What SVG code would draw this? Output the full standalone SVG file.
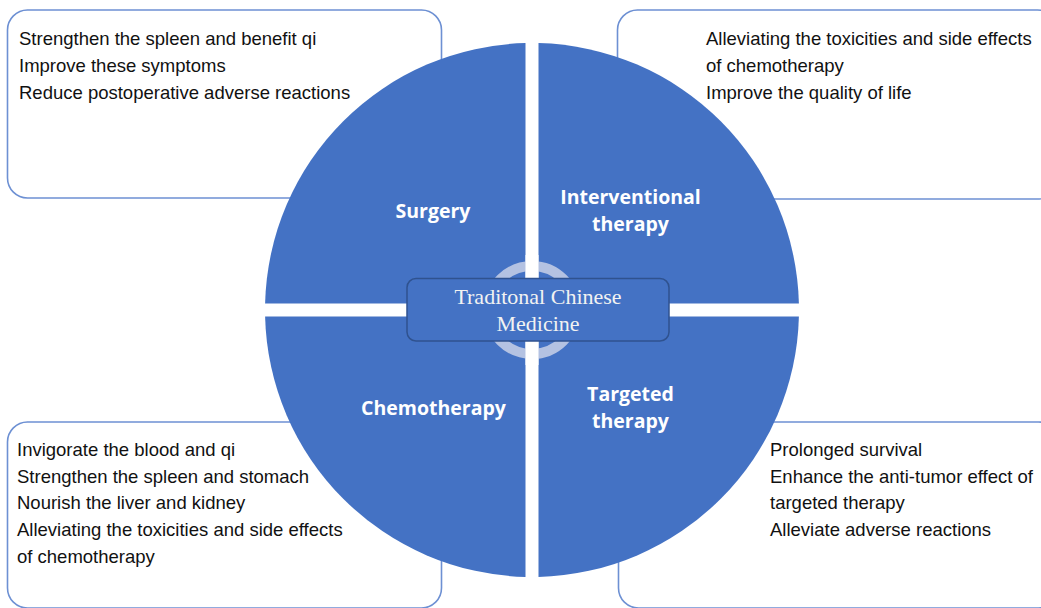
<svg xmlns="http://www.w3.org/2000/svg" width="1041" height="608" viewBox="0 0 1041 608">
<style>
.box{fill:#fff;stroke:#6d90d3;stroke-width:1.6}
.quad{fill:#4472c4}
.body{font-family:"Liberation Sans",Arial,sans-serif;font-size:18.5px;fill:#111}
.lbl{font-family:"Open Sans","Noto Sans",sans-serif;font-weight:700;font-size:19.5px;fill:#fff;text-anchor:middle}
.tcm{font-family:"Liberation Serif","Times New Roman",serif;font-size:22px;fill:#f2f2f2;text-anchor:middle}
</style>
<rect width="1041" height="608" fill="#fff"/>
<g id="box-surgery">
<rect class="box" x="7.5" y="10" width="434" height="188" rx="20"/>
<text class="body" x="19" y="45">Strengthen the spleen and benefit qi</text>
<text class="body" x="19" y="72">Improve these symptoms</text>
<text class="body" x="19" y="99">Reduce postoperative adverse reactions</text>
</g>
<g id="box-interventional">
<rect class="box" x="617.5" y="10" width="440" height="189" rx="20"/>
<text class="body" x="706" y="45">Alleviating the toxicities and side effects</text>
<text class="body" x="706" y="72">of chemotherapy</text>
<text class="body" x="706" y="99">Improve the quality of life</text>
</g>
<g id="box-chemotherapy">
<rect class="box" x="7.5" y="422" width="434" height="186" rx="20"/>
<text class="body" x="17" y="456">Invigorate the blood and qi</text>
<text class="body" x="17" y="482.7">Strengthen the spleen and stomach</text>
<text class="body" x="17" y="509.3">Nourish the liver and kidney</text>
<text class="body" x="17" y="536">Alleviating the toxicities and side effects</text>
<text class="body" x="17" y="562.7">of chemotherapy</text>
</g>
<g id="box-targeted">
<rect class="box" x="618.5" y="422" width="440" height="186" rx="20"/>
<text class="body" x="770" y="456">Prolonged survival</text>
<text class="body" x="770" y="482.7">Enhance the anti-tumor effect of</text>
<text class="body" x="770" y="509.3">targeted therapy</text>
<text class="body" x="770" y="536">Alleviate adverse reactions</text>
</g>
<g id="quad-surgery">
<path class="quad" d="M525.5,303.5 L265.1,303.5 A267,267 0 0 1 525.5,43.1 Z"/>
<text class="lbl" x="433" y="218">Surgery</text>
</g>
<g id="quad-interventional">
<path class="quad" d="M538.5,303.5 L538.5,43.1 A267,267 0 0 1 798.9,303.5 Z"/>
<text class="lbl" x="630.5" y="204">Interventional</text>
<text class="lbl" x="630.5" y="231">therapy</text>
</g>
<g id="quad-chemotherapy">
<path class="quad" d="M525.5,316.5 L525.5,576.9 A267,267 0 0 1 265.1,316.5 Z"/>
<text class="lbl" x="433.5" y="415">Chemotherapy</text>
</g>
<g id="quad-targeted">
<path class="quad" d="M538.5,316.5 L798.9,316.5 A267,267 0 0 1 538.5,576.9 Z"/>
<text class="lbl" x="630.5" y="401">Targeted</text>
<text class="lbl" x="630.5" y="428">therapy</text>
</g>
<g id="connectors">
<circle cx="532" cy="310" r="44" fill="none" stroke="#b4c2e2" stroke-width="10"/>
<rect x="525.5" y="255" width="13" height="110" fill="#fff"/>
</g>
<g id="tcm">
<rect x="407" y="278.5" width="262" height="62.5" rx="9" fill="#4472c4" stroke="#2f528f" stroke-width="1.5"/>
<text class="tcm" x="538" y="304">Traditonal Chinese</text>
<text class="tcm" x="538" y="331">Medicine</text>
</g>
</svg>
